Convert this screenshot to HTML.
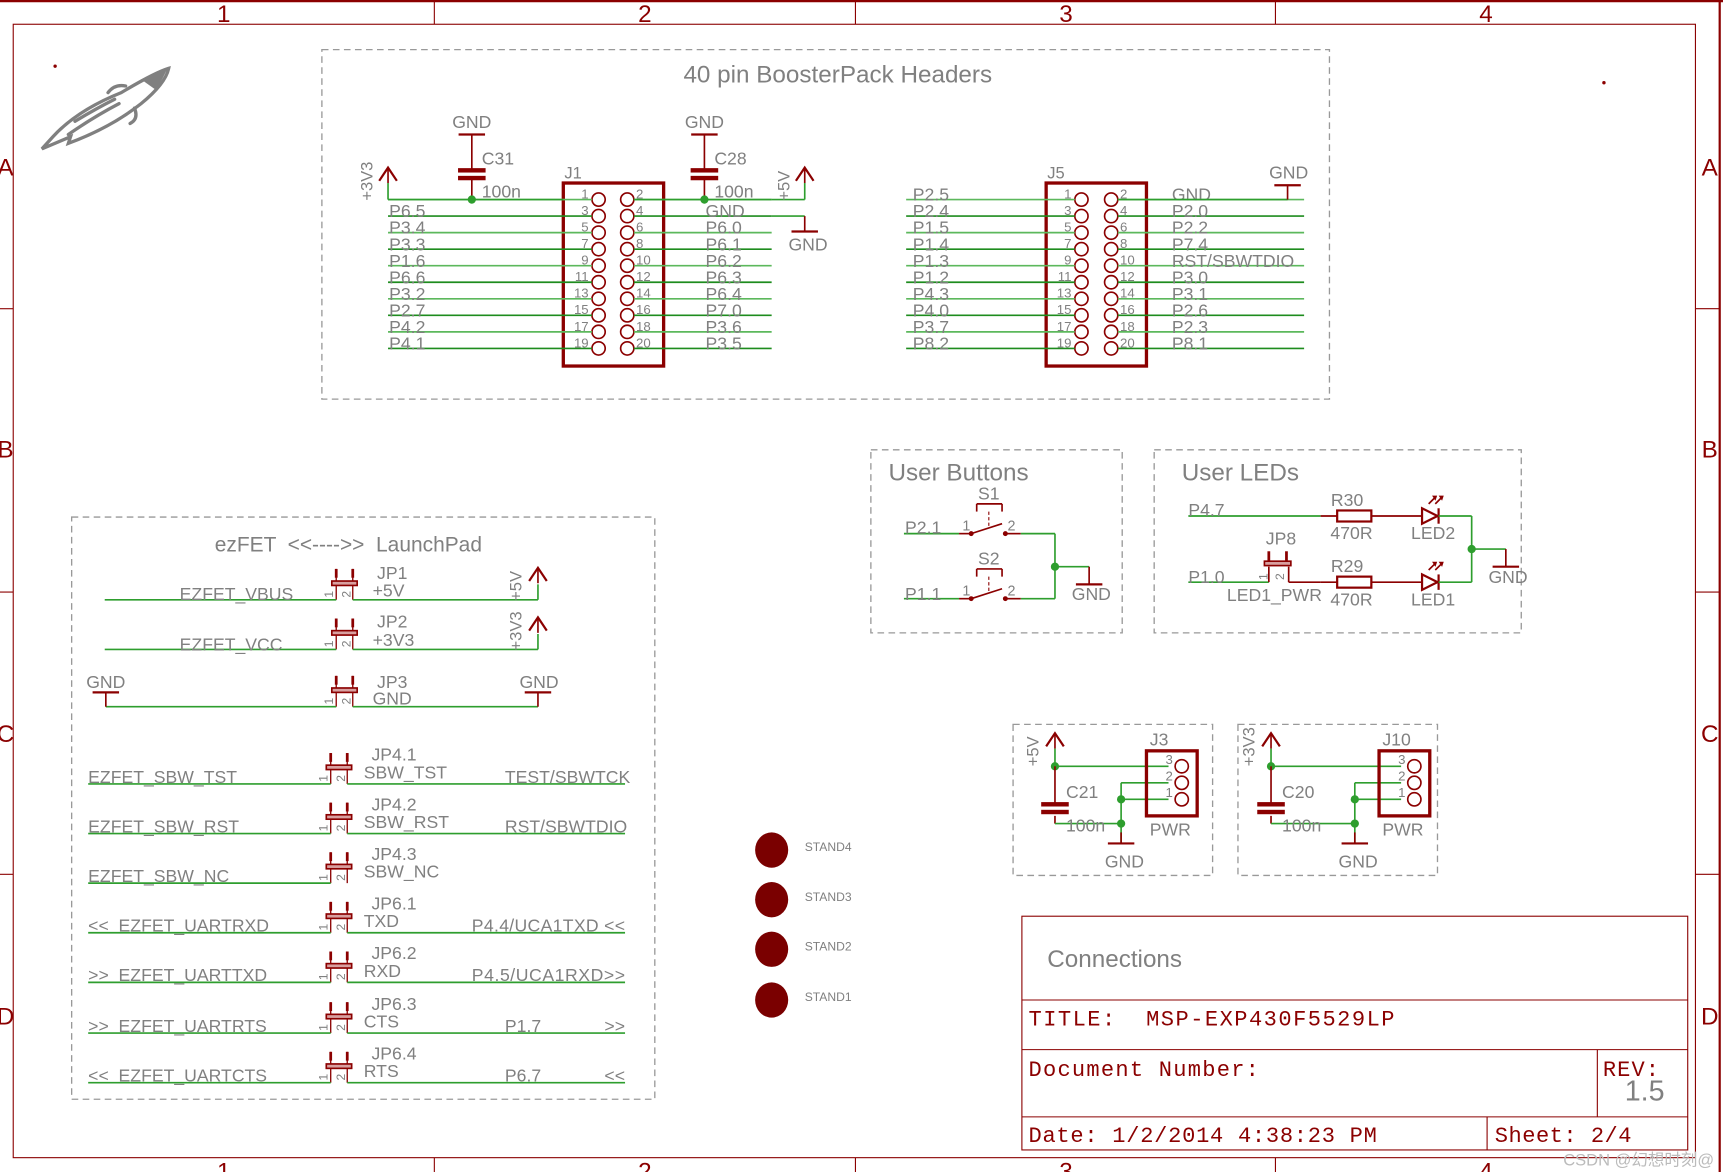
<!DOCTYPE html>
<html><head><meta charset="utf-8"><style>
html,body{margin:0;padding:0;background:#fff;}
svg{display:block;}
text{font-family:"Liberation Sans",sans-serif;fill:#808080;}
.m{font-family:"Liberation Mono","DejaVu Sans Mono",monospace;fill:#8b0000;letter-spacing:1px;}
</style></head><body>
<svg id="s" width="1723" height="1172" viewBox="0 0 1563 1063" preserveAspectRatio="none" xmlns="http://www.w3.org/2000/svg"></svg>
<script>
var R='#8b0000',G='#2e9e2e',GR='#909090',o='';
function L(x1,y1,x2,y2,c,w){o+='<line x1="'+x1+'" y1="'+y1+'" x2="'+x2+'" y2="'+y2+'" stroke="'+(c||G)+'" stroke-width="'+(w||1.5)+'"/>';}
function T(x,y,t,s,a,c,ex){o+='<text x="'+x+'" y="'+y+'" font-size="'+(s||15)+'"'+(a?' text-anchor="'+a+'"':'')+(c?' style="fill:'+c+'"':'')+(ex||'')+'>'+t+'</text>';}
function RT(x,y,t,s){o+='<text x="'+x+'" y="'+y+'" font-size="'+(s||15)+'" transform="rotate(-90 '+x+' '+y+')">'+t+'</text>';}
function Rect(x,y,w,h,c,sw,d,f){o+='<rect x="'+x+'" y="'+y+'" width="'+w+'" height="'+h+'" fill="'+(f||'none')+'" stroke="'+c+'" stroke-width="'+sw+'"'+(d?' stroke-dasharray="'+d+'"':'')+'/>';}
function C(x,y,r,c,f,sw){o+='<circle cx="'+x+'" cy="'+y+'" r="'+r+'" fill="'+(f||'none')+'" stroke="'+c+'" stroke-width="'+(sw||1.5)+'"/>';}
function dot(x,y){C(x,y,3,G,G,0);}
function gnd(x,y){L(x-12,y,x+12,y,R,2);}
function arrow(x,y){o+='<polyline points="'+(x-8)+','+(y+12)+' '+x+','+y+' '+(x+8)+','+(y+12)+'" fill="none" stroke="'+R+'" stroke-width="2"/>';L(x,y,x,y+14,R,1.5);}
function cap(x,y){Rect(x-12,y,24,3,R,1,0,R);Rect(x-12,y+7,24,3,R,1,0,R);}
// frame
L(0,1,1563,1,R,2);L(1560,0,1560,1063,R,2);
Rect(12,22,1526,1028,R,1);
[394,776,1157].forEach(function(x){L(x,0,x,22,R,1);L(x,1050,x,1063,R,1);});
[280,537,793].forEach(function(y){L(0,y,12,y,R,1);L(1538,y,1560,y,R,1);});
[[203,'1'],[585,'2'],[967,'3'],[1348,'4']].forEach(function(a){T(a[0],20,a[1],22,'middle',R);T(a[0],1070,a[1],22,'middle',R);});
[[151,'A'],[407,'B'],[665,'C'],[921,'D']].forEach(function(a){T(5,a[0]+8,a[1],22,'middle',R);T(1551,a[0]+8,a[1],22,'middle',R);});
// rocket
o+='<g fill="none" stroke="#808080" stroke-width="3" stroke-linecap="round"><path d="M38,135 L48,124 Q70,100 110,84 Q140,66 153,62 Q150,76 128,94 Q100,116 62,130 L64,124 Z"/><path d="M98,84 Q104,76 114,78 M122,98 Q126,108 118,112 M62,122 Q85,106 108,94 M68,110 Q88,98 104,90"/></g><path d="M128,72 L152,62 L142,82 Z" fill="#808080"/>';
// header box
Rect(292,45,914,317,'#999',1.2,'6,4');
T(760,75,'40 pin BoosterPack Headers',22,'middle');
function header(x0,cl,cr,labL,labR,lx1,rx2,lxT,rxT,name){
 Rect(x0,166,91,166,R,3);T(x0+1,162,name,15);
 for(var i=0;i<10;i++){var y=181+15*i;
  C(cl,y,6,R);C(cr,y,6,R);
  T(cl-9,y-1,String(2*i+1),12,'end');T(cr+8,y-1,String(2*i+2),12);
  L(lx1,y,cl-6,y,i%2?'#1e8c1e':'#5cb85c');L(cr+6,y,rx2,y,i%2?'#1e8c1e':'#5cb85c');
  if(labL[i])T(lxT,y+1,labL[i],16);if(labR[i])T(rxT,y+1,labR[i],16);}
}
header(511,543,569,['','P6.5','P3.4','P3.3','P1.6','P6.6','P3.2','P2.7','P4.2','P4.1'],['','GND','P6.0','P6.1','P6.2','P6.3','P6.4','P7.0','P3.6','P3.5'],352,700,353,640,'J1');
header(949,981,1008,['P2.5','P2.4','P1.5','P1.4','P1.3','P1.2','P4.3','P4.0','P3.7','P8.2'],['GND','P2.0','P2.2','P7.4','RST/SBWTDIO','P3.0','P3.1','P2.6','P2.3','P8.1'],822,1183,828,1063,'J5');
L(700,181,730,181);L(575,181,700,181);L(352,181,511,181);
L(352,166,352,181);arrow(352,152);RT(338,182,'+3V3',15);
L(730,166,730,181);arrow(730,152);RT(716,182,'+5V',15);
L(700,196,730,196);L(730,196,730,210,R);gnd(730,210);T(733,227,'GND',16,'middle');
[[428,'C31'],[639,'C28']].forEach(function(a){var x=a[0];T(x,116,'GND',16,'middle');gnd(x,122);L(x,122,x,153,R);cap(x,153);L(x,163,x,181,R);dot(x,181);T(x+9,149,a[1],16);T(x+9,179,'100n',16);});
L(1014,181,1168,181);L(1168,168,1168,181,R);gnd(1168,168);T(1169,162,'GND',16,'middle');
// ezFET
Rect(65,469,529,528,'#999',1.2,'6,4');
T(316,500,'ezFET &nbsp;&lt;&lt;----&gt;&gt; &nbsp;LaunchPad',19,'middle');
function jp(x,y){L(x,y-28,x,y,R,1.2);L(x+15,y-28,x+15,y,R,1.2);L(x,y-28,x,y-20,R,2.5);L(x+15,y-28,x+15,y-20,R,2.5);Rect(x-4,y-17,23,4,R,1.5,0,'#d8a0a0');RT(x-3,y-2,'1',11);RT(x+13,y-2,'2',11);}
jp(305,544);L(95,544,305,544);L(320,544,488,544);L(488,530,488,544);arrow(488,515);
T(163,544,'EZFET_VBUS',16);T(342,525,'JP1',16);T(338,541,'+5V',16);RT(473,545,'+5V',15);
jp(305,589);L(95,589,305,589);L(320,589,488,589);L(488,575,488,589);arrow(488,560);
T(163,590,'EZFET_VCC',16);T(342,569,'JP2',16);T(338,586,'+3V3',16);RT(473,590,'+3V3',15);
jp(305,641);L(96,641,305,641);L(320,641,488,641);L(96,628,96,641,R);L(488,628,488,641,R);gnd(96,628);gnd(488,628);
T(96,624,'GND',16,'middle');T(489,624,'GND',16,'middle');T(342,624,'JP3',16);T(338,639,'GND',16);
var rows=[[711,'EZFET_SBW_TST','JP4.1','SBW_TST','TEST/SBWTCK','',458],[756,'EZFET_SBW_RST','JP4.2','SBW_RST','RST/SBWTDIO','',458],[801,'EZFET_SBW_NC','JP4.3','SBW_NC','','',458],
[846,'&lt;&lt;  EZFET_UARTRXD','JP6.1','TXD','P4.4/UCA1TXD &lt;&lt;','',428],[891,'&gt;&gt;  EZFET_UARTTXD','JP6.2','RXD','P4.5/UCA1RXD&gt;&gt;','',428],[937,'&gt;&gt;  EZFET_UARTRTS','JP6.3','CTS','P1.7','&gt;&gt;',458],[982,'&lt;&lt;  EZFET_UARTCTS','JP6.4','RTS','P6.7','&lt;&lt;',458]];
rows.forEach(function(r){var y=r[0];jp(300,y);L(80,y,300,y);if(r[4]||r[5])L(315,y,567,y);
 o+='<text x="80" y="'+(y-1)+'" font-size="16" xml:space="preserve">'+r[1]+'</text>';
 T(337,y-21,r[2],16);T(330,y-5,r[3],16);
 if(r[4])o+='<text x="'+r[6]+'" y="'+(y-1)+'" font-size="16" textLength="'+(r[6]==428?139:0||'')+'">'+r[4]+'</text>';
 if(r[5])T(567,y-1,r[5],16,'end');});
// standoffs
[[771,'STAND4'],[816,'STAND3'],[861,'STAND2'],[907,'STAND1']].forEach(function(a){o+='<ellipse cx="700" cy="'+a[0]+'" rx="15" ry="16" fill="#7a0000"/>';T(730,a[0]+1,a[1],11);});
// User buttons
Rect(790,408,228,166,'#999',1.2,'6,4');T(806,436,'User Buttons',22);
function sw(y,n){L(820,y,870,y);L(870,y,880,y,R);C(881,y,1.5,R,R);L(881,y,909,y-9,R);C(912,y,1.5,R,R);L(912,y,926,y,R);L(926,y,957,y);
 o+='<line x1="897" y1="'+(y-20)+'" x2="897" y2="'+(y-6)+'" stroke="'+R+'" stroke-dasharray="3,2"/>';
 L(886,y-27,909,y-27,R,1.5);L(886,y-27,886,y-20,R,1.5);L(909,y-27,909,y-20,R,1.5);
 T(897,y-31,n,16,'middle');T(873,y-3,'1',13);T(914,y-3,'2',13);}
sw(484,'S1');sw(543,'S2');T(821,484,'P2.1',16);T(821,544,'P1.1',16);
L(957,484,957,543);dot(957,514);L(957,514,988,514);L(988,514,988,530,R);gnd(988,530);T(990,544,'GND',16,'middle');
// User LEDs
Rect(1047,408,333,166,'#999',1.2,'6,4');T(1072,436,'User LEDs',22);
function led(y,rn,ln){L(1198,y,1213,y,R);Rect(1213,y-5,31,10,R,2);L(1244,y,1290,y,R);
 o+='<polygon points="1290,'+(y-7)+' 1290,'+(y+7)+' 1304,'+y+'" fill="none" stroke="'+R+'" stroke-width="2"/>';L(1305,y-7,1305,y+7,R,2);L(1305,y,1335,y,G);
 o+='<path d="M1296,'+(y-11)+' l6,-6 M1302,'+(y-11)+' l6,-6" stroke="'+R+'" stroke-width="1.5"/><path d="M1300,'+(y-18)+' l3,0 l-1,3z M1306,'+(y-18)+' l3,0 l-1,3z" fill="'+R+'" stroke="'+R+'"/>';
 T(1222,y-9,rn,16,'middle');T(1226,y+21,'470R',16,'middle');T(1300,y+21,ln,16,'middle');}
L(1078,468,1198,468);led(468,'R30','LED2');T(1078,468,'P4.7',16);
L(1078,528,1151,528);L(1151,528,1151,514,R);L(1169,514,1169,528,R);L(1169,528,1198,528,R);
L(1151,500,1151,512,R,2.5);L(1167,500,1167,512,R,2.5);Rect(1147,509,24,4,R,1.5,0,'#d8a0a0');RT(1150,526,'1',11);RT(1165,526,'2',11);
led(528,'R29','LED1');T(1078,529,'P1.0',16);T(1162,494,'JP8',16,'middle');T(1113,545,'LED1_PWR',16);
L(1335,468,1335,528);dot(1335,498);L(1335,498,1366,498);L(1366,498,1366,514,R);gnd(1366,514);T(1368,529,'GND',16,'middle');
function pwr(bx,cx,vx,rx,nm,cn,vl){Rect(bx,657,181,137,'#999',1.2,'6,4');
 arrow(cx,665);L(cx,679,cx,695);RT(cx-15,695,vl,15);
 L(cx,695,rx+20,695);dot(cx,695);L(cx,695,cx,728,R);cap(cx,728);L(cx,740,cx,747,R);L(cx,747,vx,747);dot(vx,747);
 T(cx+10,724,cn,16);T(cx+10,754,'100n',16);
 L(vx,710,rx+20,710);L(vx,710,vx,765);L(vx,725,rx+20,725);dot(vx,725);L(vx,755,vx,765,R);gnd(vx,765);T(vx+3,787,'GND',16,'middle');
 Rect(rx,681,46,59,R,3);[695,710,725].forEach(function(y,i){C(rx+32,y,6,R);T(rx+24,y-2,String(3-i),12,'end');});
 T(rx+3,676,nm,16);T(rx+3,758,'PWR',16);}
pwr(919,957,1017,1040,'J3','C21','+5V');pwr(1123,1153,1229,1251,'J10','C20','+3V3');
// title block
Rect(927,831,604,212,R,1);L(927,907,1531,907,R,1);L(927,952,1531,952,R,1);L(927,1013,1531,1013,R,1);L(1449,952,1449,1013,R,1);L(1349,1013,1349,1043,R,1);
T(950,877,'Connections',22);
o+='<text class="m" x="933" y="930" font-size="20" xml:space="preserve" textLength="333">TITLE:  MSP-EXP430F5529LP</text>';
o+='<text class="m" x="933" y="976" font-size="20" textLength="210">Document Number:</text>';
o+='<text class="m" x="1454" y="976" font-size="20">REV:</text>';
T(1510,998,'1.5',26,'end');
o+='<text class="m" x="933" y="1036" font-size="20" textLength="317">Date: 1/2/2014 4:38:23 PM</text>';
o+='<text class="m" x="1356" y="1036" font-size="20" textLength="125">Sheet: 2/4</text>';
o+='<text x="1555" y="1057" font-size="15" text-anchor="end" style="fill:#bbbbbb;font-family:\'Liberation Sans\',\'Noto Sans CJK SC\',sans-serif">CSDN @幻想时刻@</text>';
C(50,60,0.8,R,R,0);C(1455,75,0.8,R,R,0);
document.getElementById('s').innerHTML=o.replace(/ textLength="0"/g,'');
</script>
</body></html>
